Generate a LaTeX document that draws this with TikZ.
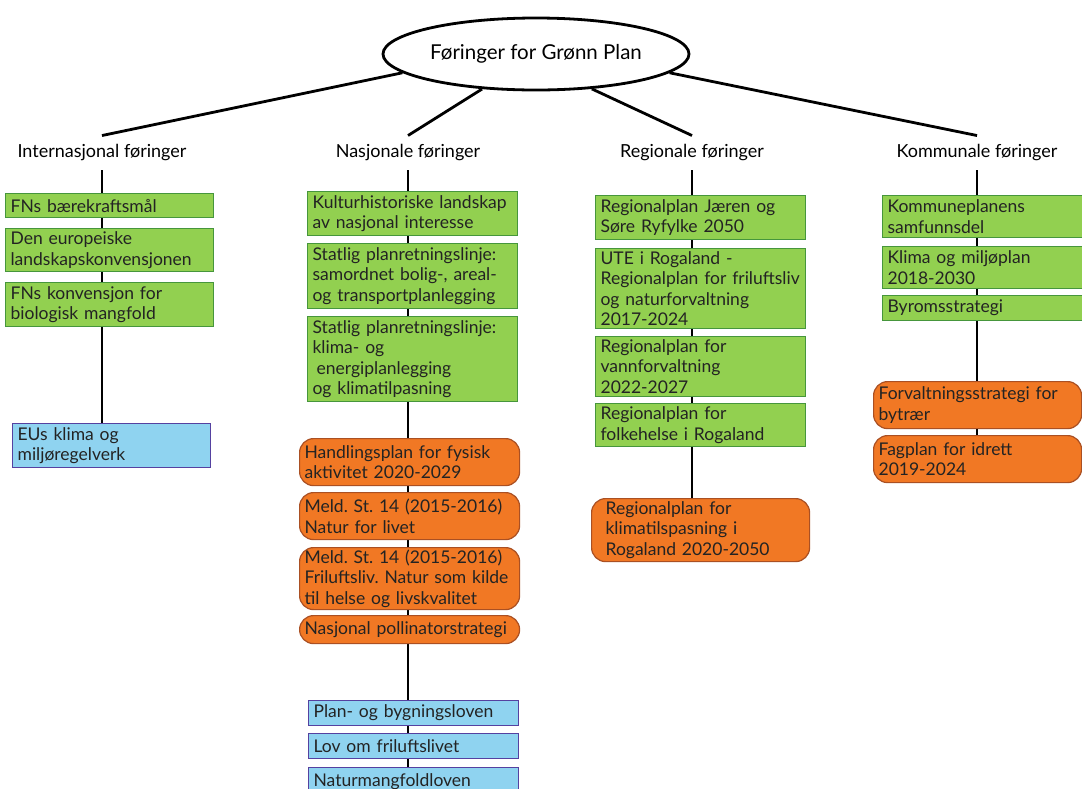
\documentclass[tikz,border=0pt]{standalone}
\usepackage{fontspec}
\setmainfont{Lato}
\usetikzlibrary{shapes.geometric,backgrounds}
\definecolor{grfill}{RGB}{146,208,80}
\definecolor{grline}{RGB}{70,150,60}
\definecolor{orfill}{RGB}{241,120,36}
\definecolor{orline}{RGB}{170,80,35}
\definecolor{blfill}{RGB}{143,211,240}
\definecolor{blline}{RGB}{85,65,160}
\definecolor{txt}{RGB}{35,35,35}
\tikzset{
  stem/.style={line width=2.8pt,black},
  head/.style={font=\fontsize{18}{20}\selectfont,inner ysep=9pt},
  box/.style={draw,line width=1.2pt,anchor=north west,align=left,
    inner xsep=5pt,inner ysep=1pt,text=txt,font=\fontsize{17.5}{20.5}\selectfont},
  gbox/.style={box,fill=grfill,draw=grline,text width=#1},
  obox/.style={box,fill=orfill,draw=orline,rounded corners=14pt,text width=#1},
  bbox/.style={box,fill=blfill,draw=blline,text width=#1},
}

\begin{document}
\frenchspacing
\begin{tikzpicture}[x=1pt,y=-1pt]
\useasboundingbox (0,0) rectangle (1082,788);
% top
\node[ellipse,draw,line width=2.8pt,minimum width=306pt,minimum height=72pt,
  inner sep=0pt,font=\fontsize{20.5}{22}\selectfont] (title) at (536,54) {Føringer for Grønn Plan};
\node[head] (hInt) at (102,153) {Internasjonal føringer};
\node[head] (hNas) at (408,153) {Nasjonale føringer};
\node[head] (hReg) at (692,153) {Regionale føringer};
\node[head] (hKom) at (977,153) {Kommunale føringer};
\draw[stem] (title.188) -- (hInt.north);
\draw[stem] (title.213) -- (hNas.north);
\draw[stem] (title.328) -- (hReg.north);
\draw[stem] (title.352) -- (hKom.north);
% internasjonal
\node[gbox=198pt,minimum height=24pt] (iFN) at (5,193) {FNs bærekraftsmål};
\node[gbox=198pt,minimum height=43pt] (iEur) at (5,228) {Den europeiske\\landskapskonvensjonen};
\node[gbox=198pt,minimum height=44pt] (iBio) at (5,282) {FNs konvensjon for\\biologisk mangfold};
\node[bbox=188pt,minimum height=44pt] (iEU) at (12,423) {EUs klima og\\miljøregelverk};
% nasjonale
\node[gbox=200pt,minimum height=44pt] (nKul) at (307,191) {Kulturhistoriske landskap\\av nasjonal interesse};
\node[gbox=200pt,minimum height=65pt] (nSam) at (307,243) {Statlig planretningslinje:\\samordnet bolig-, areal-\\og transportplanlegging};
\node[gbox=200pt,minimum height=85pt] (nKli) at (307,316) {Statlig planretningslinje:\\klima- og\\\hspace*{4pt}energiplanlegging\\og klimatilpasning};
\node[obox=210pt,minimum height=47pt] (nHand) at (299,438) {Handlingsplan for fysisk\\aktivitet 2020-2029};
\node[obox=210pt,minimum height=47pt] (nMeldA) at (299,492) {Meld. St. 14 (2015-2016)\\Natur for livet};
\node[obox=210pt,minimum height=62pt] (nMeldB) at (299,547) {Meld. St. 14 (2015-2016)\\Friluftsliv. Natur som kilde\\til helse og livskvalitet};
\node[obox=210pt,minimum height=28pt] (nPol) at (299,615) {Nasjonal pollinatorstrategi};
\node[bbox=200pt,minimum height=25pt] (nPbl) at (308,700) {Plan- og bygningsloven};
\node[bbox=200pt,minimum height=25pt] (nFril) at (308,733) {Lov om friluftslivet};
\node[bbox=200pt,minimum height=28pt] (nNat) at (308,767) {Naturmangfoldloven};
% regionale
\node[gbox=200pt,minimum height=44pt] (rJae) at (595,195) {Regionalplan Jæren og\\Søre Ryfylke 2050};
\node[gbox=200pt,minimum height=80pt] (rUte) at (595,248) {UTE i Rogaland -\\Regionalplan for friluftsliv\\og naturforvaltning\\2017-2024};
\node[gbox=200pt,minimum height=60pt] (rVann) at (595,336) {Regionalplan for\\vannforvaltning\\2022-2027};
\node[gbox=200pt,minimum height=43pt] (rFolk) at (595,403) {Regionalplan for\\folkehelse i Rogaland};
\node[obox=190pt,inner xsep=14pt,minimum height=63pt] (rKlim) at (591,498) {Regionalplan for\\klimatilspasning i\\Rogaland 2020-2050};
% kommunale
\node[gbox=190pt,minimum height=42pt] (kSam) at (882,195) {Kommuneplanens\\samfunnsdel};
\node[gbox=190pt,minimum height=42pt] (kKli) at (882,246) {Klima og miljøplan\\2018-2030};
\node[gbox=190pt,minimum height=25pt] (kByr) at (882,295) {Byromsstrategi};
\node[obox=198pt,minimum height=47pt] (kFor) at (873,381) {Forvaltningsstrategi for\\bytrær};
\node[obox=198pt,minimum height=47pt] (kFag) at (873,435) {Fagplan for idrett\\2019-2024};
% stems behind the boxes
\begin{scope}[on background layer]
\draw[stem] (hInt.south) -- (hInt.south |- iEU.north);
\draw[stem] (hNas.south) -- (hNas.south |- nNat.north);
\draw[stem] (hReg.south) -- (hReg.south |- rKlim.north);
\draw[stem] (hKom.south) -- (hKom.south |- kFag.north);
\end{scope}
\end{tikzpicture}
\end{document}
